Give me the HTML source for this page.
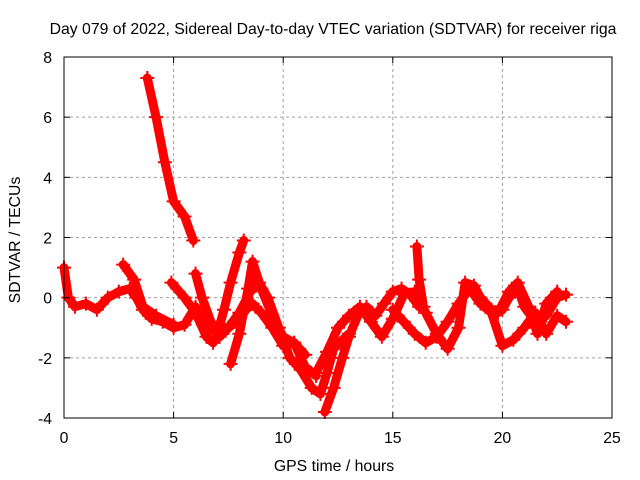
<!DOCTYPE html>
<html><head><meta charset="utf-8"><style>
body{margin:0;background:#fff}
svg{display:block;font-family:"Liberation Sans",sans-serif}
</style></head><body>
<svg id="chart" width="640" height="480">
<text x="333" y="34" text-anchor="middle" font-size="15.8">Day 079 of 2022, Sidereal Day-to-day VTEC variation (SDTVAR) for receiver riga</text>
<text x="334" y="471" text-anchor="middle" font-size="15.8">GPS time / hours</text>
<text transform="translate(20,240) rotate(-90)" text-anchor="middle" font-size="15.8">SDTVAR / TECUs</text>
<g id="grid"></g><g id="series"></g><g id="axes"></g>
</svg>
<script>
const xTicks=[0,5,10,15,20,25];
const yTicks=[-4,-2,0,2,4,6,8];
const trackA=[[0,1],[0.2,0],[0.5,-0.3],[1,-0.2],[1.5,-0.4],[2,0],[2.5,0.2],[3,0.3],[3.3,0],[3.6,-0.4],[4,-0.7],[4.5,-0.8],[5,-1],[5.5,-0.9],[6,-0.3],[6.5,-1.1],[7,-1],[7.5,-1],[8,-0.7],[8.3,-0.4],[8.6,-0.2],[9,-0.5],[9.5,-1],[10,-1.6],[10.5,-1.5],[11,-1.9]];
const trackB=[[2.7,1.1],[3.2,0.6],[3.6,-0.3],[4.2,-0.6],[5,-0.9]];
const trackC=[[3.8,7.3],[4.2,6],[4.6,4.5],[5,3.2],[5.5,2.7],[5.9,1.9]];
const trackD=[[4.9,0.5],[5.5,0],[6,-0.5],[6.5,-1.3],[6.8,-1.5],[7,-1.2],[7.3,-0.4],[7.6,0.5],[8,1.5],[8.2,1.9]];
const trackE=[[6,0.8],[6.3,0],[6.7,-0.8],[7.1,-1.3],[7.5,-1],[8,-0.5],[8.5,0.2],[8.9,0.5],[9.3,0],[9.8,-1],[10.3,-2],[10.8,-2.4],[11.3,-3],[11.7,-3.2],[12,-2.5],[12.3,-1.7],[13,-1.2]];
const trackF=[[7.6,-2.2],[8,-1.2],[8.4,0.3],[8.6,1.2],[9,0.3],[9.5,-0.6],[10,-1.3],[10.5,-1.5],[11,-2.3],[11.5,-2.6]];
const trackG=[[11.9,-3.8],[12.3,-3],[12.7,-2],[13,-1.3],[13.4,-0.6],[13.8,-0.3],[14.2,-0.6],[14.6,-0.2],[15,0.2],[15.4,0.3],[15.8,0.1],[16.2,-0.3]];
const trackH=[[11.5,-2.5],[12,-1.8],[12.5,-1],[13,-0.6],[13.5,-0.3],[14,-0.8],[14.5,-1.3],[15,-0.7],[15.5,0.1],[16,0.2],[16.5,-0.5],[17,-1.2],[17.5,-1.7],[18,-1],[18.3,0.5],[18.7,0.4],[19,0],[19.5,-0.4],[20,-0.4],[20.3,0],[20.7,0.3],[21,-0.3],[21.5,-0.8],[22,-0.6],[22.5,0],[22.9,0.1]];
const trackI=[[15,-0.4],[15.5,-0.8],[16,-1.2],[16.5,-1.5],[17,-1.3],[17.5,-0.8],[18,-0.2],[18.5,0.3],[19,-0.2],[19.5,-0.5],[20,-1.6],[20.5,-1.4],[21,-1],[21.5,-0.5],[22,-1.2],[22.5,-0.6],[22.9,-0.8]];
const trackSpike=[[16.1,1.7],[16.2,0.6],[16.4,-0.3]];
const trackJ=[[19.8,-0.5],[20.3,0.2],[20.7,0.5],[21.2,-0.3],[21.6,-1.2],[22,-0.2],[22.5,0.2]];
const tracks=[trackA,trackB,trackC,trackD,trackE,trackF,trackG,trackH,trackI,trackSpike,trackJ];
const X0=64,X1=612,Y0=418,Y1=57;
const xs=v=>X0+(v-0)/(25-0)*(X1-X0);
const ys=v=>Y0-(v+4)/12*(Y0-Y1);
const NS="http://www.w3.org/2000/svg";
function mk(t,a,p){const e=document.createElementNS(NS,t);for(const k in a)e.setAttribute(k,a[k]);p.appendChild(e);return e;}
const grid=document.getElementById('grid'),axes=document.getElementById('axes'),ser=document.getElementById('series');
xTicks.forEach(t=>{const x=xs(t);
 if(t>0&&t<25){const g=mk('line',{x1:x,x2:x,y1:Y1,y2:Y0,stroke:'#a0a0a0','stroke-dasharray':'3,3'},grid);
 
 }
 mk('line',{x1:x,x2:x,y1:Y0,y2:Y0-6,stroke:'#000'},axes);
 mk('line',{x1:x,x2:x,y1:Y1,y2:Y1+6,stroke:'#000'},axes);
 const l=mk('text',{x:x,y:Y0+25,'text-anchor':'middle','font-size':'15.8'},axes);l.textContent=t;
 
 });
yTicks.forEach(t=>{const y=ys(t);
 if(t>-4&&t<8){const g=mk('line',{x1:X0,x2:X1,y1:y,y2:y,stroke:'#a0a0a0','stroke-dasharray':'3,3'},grid);
 
 }
 mk('line',{x1:X0,x2:X0+6,y1:y,y2:y,stroke:'#000'},axes);
 mk('line',{x1:X1,x2:X1-6,y1:y,y2:y,stroke:'#000'},axes);
 const l=mk('text',{x:X0-12,y:y+6,'text-anchor':'end','font-size':'15.8'},axes);l.textContent=t;
 
 });
const fr=mk('rect',{x:X0,y:Y1,width:X1-X0,height:Y0-Y1,fill:'none',stroke:'#000'},axes);


tracks.forEach((tr,i)=>{
 const pl=mk('polyline',{points:tr.map(p=>xs(p[0])+','+ys(p[1])).join(' '),fill:'none',stroke:'#ff0000','stroke-width':'9','stroke-linejoin':'round','stroke-linecap':'round'},ser);
 
 
 tr.forEach(p=>{const x=xs(p[0]),y=ys(p[1]);
  const m=mk('path',{d:`M${x-7},${y}H${x+7}M${x},${y-7}V${y+7}`,stroke:'#ff0000','stroke-width':'2'},ser);
  
  });
});
</script>
</body></html>
